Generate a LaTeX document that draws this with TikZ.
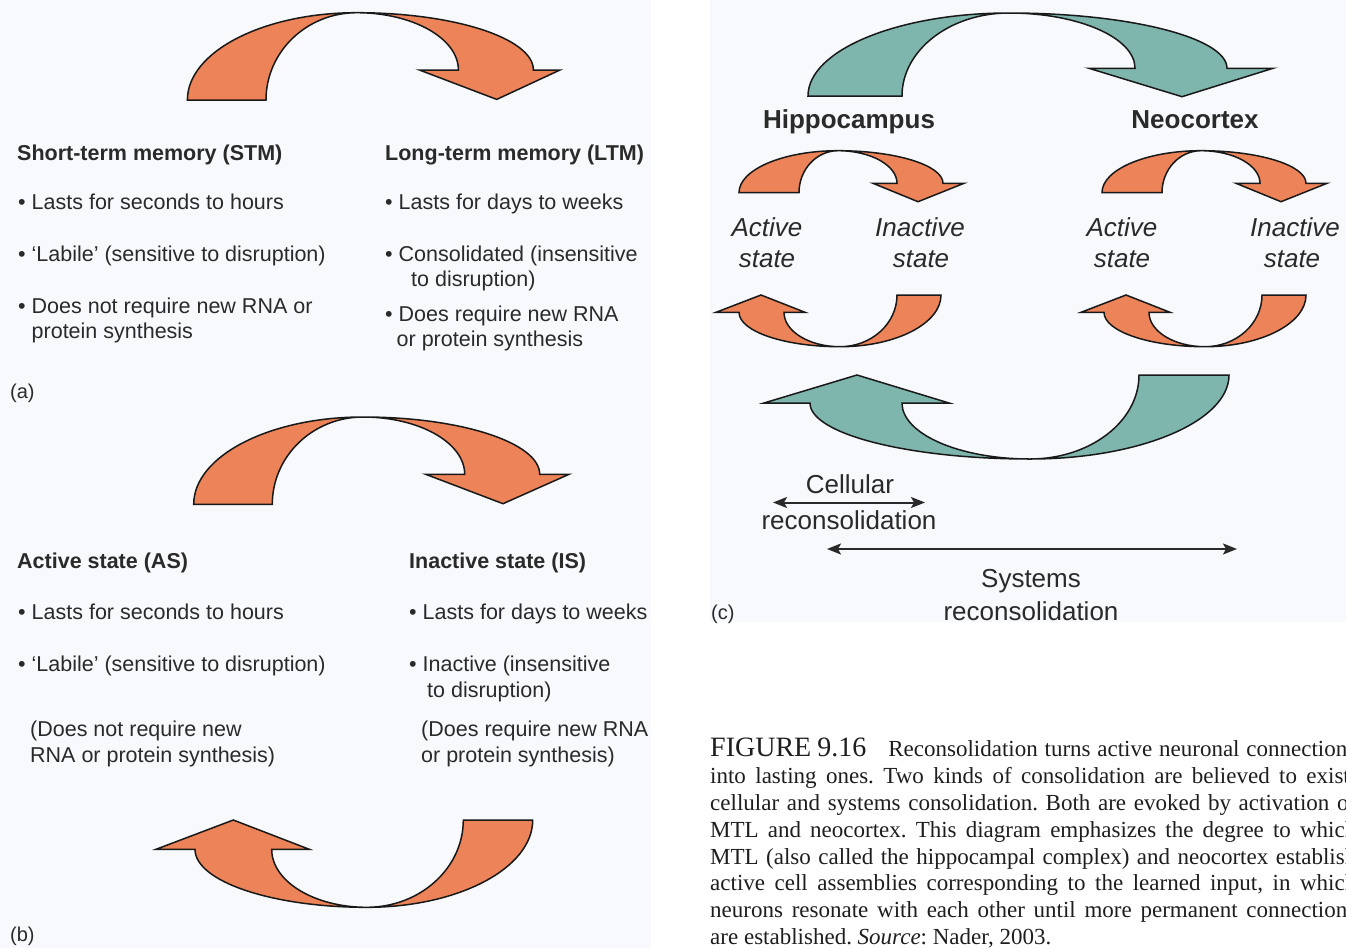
\documentclass[tikz,border=0pt]{standalone}
\usepackage{fontspec}
\setmainfont{Liberation Serif}
\newfontfamily\panelfont{Liberation Sans}
\usetikzlibrary{arrows.meta}
\frenchspacing

\definecolor{panelbg}{RGB}{247,249,252}
\definecolor{arroworange}{RGB}{237,131,88}
\definecolor{arrowteal}{RGB}{126,181,173}
\definecolor{inkgray}{RGB}{42,42,42}
\definecolor{outlinegray}{RGB}{25,25,25}
\definecolor{captionink}{RGB}{30,30,30}

% A bent block arrow: apex at the origin, tail on the left, head on the right.
% #1,#2,#3: tail outer radius, inner radius, height
% #4,#5,#6: head-side outer radius, inner radius, height
% #7,#8: inner and outer barb offsets, #9: tip point
\newcommand{\bentarrow}[9]{%
  \filldraw[bentarrow] (-#1,-#3)
    arc[start angle=180, end angle=90, x radius=#1, y radius=#3]
    arc[start angle=90, end angle=0, x radius=#4, y radius=#6]
    -- (#8,-#6) -- #9 -- (#7,-#6) -- (#5,-#6)
    arc[start angle=0, end angle=90, x radius=#5, y radius=#6]
    arc[start angle=90, end angle=180, x radius=#2, y radius=#3]
    -- cycle;}

\tikzset{
  arrowline/.style={draw=outlinegray, line width=1.5pt, line join=miter},
  orangearrow/.style={bentarrow/.style={arrowline, fill=arroworange}},
  tealarrow/.style={bentarrow/.style={arrowline, fill=arrowteal}},
  ptext/.style={font=\panelfont\fontsize{21.5}{26}\selectfont, text=inkgray,
    inner sep=0pt, anchor=base west},
  phead/.style={ptext, font=\panelfont\bfseries\fontsize{21.5}{26}\selectfont},
  plabel/.style={ptext, font=\panelfont\fontsize{20}{24}\selectfont},
  chead/.style={font=\panelfont\bfseries\fontsize{26}{30}\selectfont,
    text=inkgray, inner sep=0pt, anchor=base},
  cstate/.style={font=\panelfont\itshape\fontsize{26}{30}\selectfont,
    text=inkgray, inner sep=0pt, anchor=base},
  ctext/.style={font=\panelfont\fontsize{26}{30}\selectfont,
    text=inkgray, inner sep=0pt, anchor=base},
  capline/.style={font=\fontsize{23}{26.7}\selectfont, text=captionink,
    inner sep=0pt, anchor=base west},
  spanarrow/.style={draw=inkgray, line width=2pt,
    {Stealth[length=14pt,width=11pt,inset=3pt]}-{Stealth[length=14pt,width=11pt,inset=3pt]}}
}

\newcommand{\capbox}[1]{\makebox[646pt][s]{#1}}

\begin{document}
\begin{tikzpicture}[x=1pt,y=1pt]
\useasboundingbox (0,0) rectangle (1346,-948);
\clip (0,0) rectangle (1346,-948);
\fill[white] (0,0) rectangle (1346,-948);

% ---------- panels (a) and (b) ----------
\begin{scope}
\clip (0,0) rectangle (651,-948);
\fill[panelbg] (0,0) rectangle (651,-948);

\begin{scope}[shift={(356.7,-12.7)}, orangearrow]
  \bentarrow{169.3}{90.7}{87.3}{176.7}{101.7}{57.3}{62.7}{203.3}{(140,-86.7)}
\end{scope}

\node[phead] (stmHead) at (17,-160) {Short-term memory (STM)};
\node[ptext] (stmA) at (18,-209) {• Lasts for seconds to hours};
\node[ptext] (stmB) at (18,-261.5) {• ‘Labile’ (sensitive to disruption)};
\node[ptext] (stmC) at (18,-313.5) {• Does not require new RNA or};
\node[ptext] (stmD) at (31.5,-338.5) {protein synthesis};

\node[phead] (ltmHead) at (385,-160) {Long-term memory (LTM)};
\node[ptext] (ltmA) at (385,-209) {• Lasts for days to weeks};
\node[ptext] (ltmB) at (385,-261.5) {• Consolidated (insensitive};
\node[ptext] (ltmC) at (411,-286.5) {to disruption)};
\node[ptext] (ltmD) at (385,-321.5) {• Does require new RNA};
\node[ptext] (ltmE) at (396.5,-346.5) {or protein synthesis};

\node[plabel] (labA) at (10,-398) {(a)};

\begin{scope}[shift={(363,-417)}, orangearrow]
  \bentarrow{169.3}{90.7}{87.3}{176.7}{101.7}{57.3}{62.7}{206}{(140,-86.7)}
\end{scope}

\node[phead] (asHead) at (17,-568) {Active state (AS)};
\node[ptext] (asA) at (18,-619) {• Lasts for seconds to hours};
\node[ptext] (asB) at (18,-671) {• ‘Labile’ (sensitive to disruption)};
\node[ptext] (asC) at (30,-736) {(Does not require new};
\node[ptext] (asD) at (30,-762) {RNA or protein synthesis)};

\node[phead] (isHead) at (409,-568) {Inactive state (IS)};
\node[ptext] (isA) at (409,-619) {• Lasts for days to weeks};
\node[ptext] (isB) at (409,-671) {• Inactive (insensitive};
\node[ptext] (isC) at (427,-697) {to disruption)};
\node[ptext] (isD) at (421,-736) {(Does require new RNA};
\node[ptext] (isE) at (421,-762) {or protein synthesis)};

\begin{scope}[shift={(366.7,-907.3)}, rotate=180, orangearrow]
  \bentarrow{166}{96.6}{87.3}{171.7}{95}{58}{57.4}{210.7}{(133.4,-87.3)}
\end{scope}

\node[plabel] (labB) at (10,-941) {(b)};
\end{scope}

% ---------- panel (c) ----------
\fill[panelbg] (710,0) rectangle (1346,-622);

\begin{scope}[shift={(1009,-13)}, tealarrow]
  \bentarrow{201}{107}{83}{218}{126}{55.3}{80}{264}{(173,-83.7)}
\end{scope}

\node[chead] (hippo) at (849,-128) {Hippocampus};
\node[chead] (neo) at (1195,-128) {Neocortex};

\begin{scope}[shift={(838,-150.7)}, orangearrow]
  \bentarrow{99}{39}{42}{105}{59}{32.6}{35}{126}{(80,-51)}
\end{scope}
\begin{scope}[shift={(1201,-150.7)}, orangearrow]
  \bentarrow{99}{39}{42}{105}{59}{32.6}{35}{126}{(80,-51)}
\end{scope}

\node[cstate] (hActA) at (767,-236) {Active};
\node[cstate] (hActB) at (767,-267) {state};
\node[cstate] (hInA) at (920,-236) {Inactive};
\node[cstate] (hInB) at (921,-267) {state};
\node[cstate] (nActA) at (1122,-236) {Active};
\node[cstate] (nActB) at (1122,-267) {state};
\node[cstate] (nInA) at (1295,-236) {Inactive};
\node[cstate] (nInB) at (1292,-267) {state};

\begin{scope}[shift={(840,-346.7)}, rotate=180, orangearrow]
  \bentarrow{101}{57}{51.7}{101}{56}{34.4}{35}{124}{(79,-51.7)}
\end{scope}
\begin{scope}[shift={(1205,-346.7)}, rotate=180, orangearrow]
  \bentarrow{101}{57}{51.7}{101}{56}{34.4}{35}{124}{(79,-51.7)}
\end{scope}

\begin{scope}[shift={(1030,-459)}, rotate=180, tealarrow]
  \bentarrow{199}{109}{84}{220}{128}{56}{81}{266}{(173,-84)}
\end{scope}

\node[ctext] (cellA) at (850,-493) {Cellular};
\node[ctext] (cellB) at (849,-529) {reconsolidation};
\coordinate (cellL) at (773,-502.5);
\coordinate (cellR) at (925,-502.5);
\draw[spanarrow] (cellL) -- (cellR);

\coordinate (sysL) at (827,-549);
\coordinate (sysR) at (1237,-549);
\draw[spanarrow] (sysL) -- (sysR);
\node[ctext] (sysA) at (1031,-587) {Systems};
\node[ctext] (sysB) at (1031,-620) {reconsolidation};

\node[plabel] (labC) at (711,-619) {(c)};

% ---------- caption ----------
\node[capline] (cap1) at (710,-756) {\capbox{{\fontsize{28}{28}\selectfont FIGURE\hspace{6pt}9.16}\hspace{22pt}Reconsolidation turns active neuronal connections}};
\node[capline] (cap2) at (710,-783) {\capbox{into lasting ones. Two kinds of consolidation are believed to exist:}};
\node[capline] (cap3) at (710,-810) {\capbox{cellular and systems consolidation. Both are evoked by activation of}};
\node[capline] (cap4) at (710,-837) {\capbox{MTL and neocortex. This diagram emphasizes the degree to which}};
\node[capline] (cap5) at (710,-864) {\capbox{MTL (also called the hippocampal complex) and neocortex establish}};
\node[capline] (cap6) at (710,-890.5) {\capbox{active cell assemblies corresponding to the learned input, in which}};
\node[capline] (cap7) at (710,-917) {\capbox{neurons resonate with each other until more permanent connections}};
\node[capline] (cap8) at (710,-944) {are established. \textit{Source}: Nader, 2003.};
\end{tikzpicture}
\end{document}
